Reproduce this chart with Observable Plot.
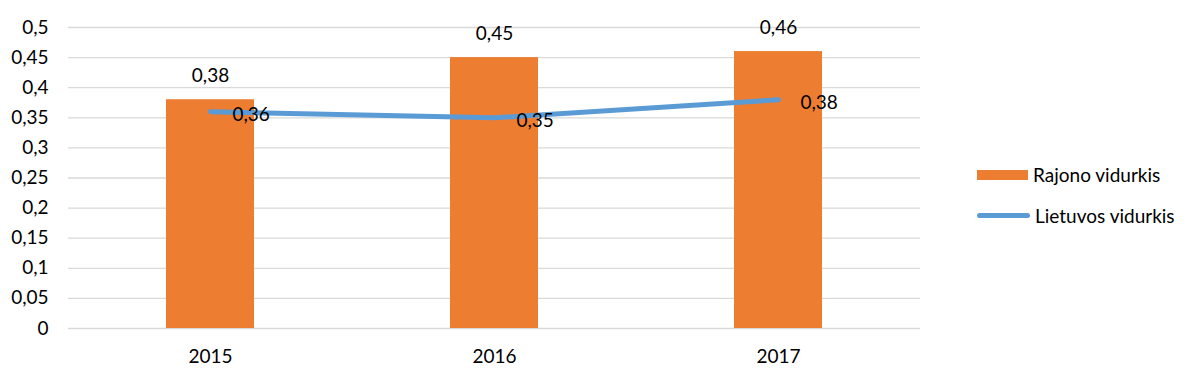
<!DOCTYPE html>
<html><head><meta charset="utf-8">
<script src="https://cdn.jsdelivr.net/npm/d3@7"></script>
<script src="https://cdn.jsdelivr.net/npm/@observablehq/plot@0.6"></script>
<style>
body{margin:0;background:#fff;font-family:Lato,"Open Sans",sans-serif;}
#wrap{position:relative;width:1200px;height:388px;}
#chart{position:absolute;left:0;top:0;}
.leg{position:absolute;left:977px;font-size:19px;color:#000;display:flex;align-items:center;}
.sw{display:inline-block;margin-right:5px;}
</style></head><body>
<div id="wrap"><div id="chart"></div>
<div class="leg" style="top:163px"><span class="sw" style="width:51px;height:10px;background:#ED7D31"></span>Rajono vidurkis</div>
<div class="leg" style="top:204px"><span class="sw" style="width:53px;height:5px;border-radius:3px;background:#5B9BD5"></span>Lietuvos vidurkis</div>
</div>
<script>
const years = ["2015","2016","2017"];
const rajono = [0.38,0.45,0.46];
const lietuvos = [0.36,0.35,0.38];
const yTicks = [0,0.05,0.1,0.15,0.2,0.25,0.3,0.35,0.4,0.45,0.5];
const seriesNames = ["Rajono vidurkis","Lietuvos vidurkis"];

const fmt = v => String(v).replace(".", ",");
const bars = years.map((y,i)=>({year:y, value:rajono[i], series:seriesNames[0]}));
const line = years.map((y,i)=>({year:y, value:lietuvos[i], series:seriesNames[1]}));

const plot = Plot.plot({
  width: 930, height: 388,
  marginLeft: 68, marginRight: 10, marginTop: 27, marginBottom: 60,
  style:{fontFamily:"Lato, 'Open Sans', sans-serif", fontSize:"19px", color:"#000", background:"transparent"},
  x:{domain:years, paddingInner:0.69, paddingOuter:0.345, label:null},
  y:{domain:[0,0.5], label:null},
  marks:[
    Plot.gridY(yTicks, {stroke:"#d9d9d9", strokeOpacity:1, strokeWidth:1.3}),
    Plot.axisY(yTicks, {tickSize:0, tickPadding:20, tickFormat:fmt, fontSize:19}),
    Plot.axisX({tickSize:0, tickPadding:21, fontSize:19}),
    Plot.barY(bars, {x:"year", y:"value", fill:"#ED7D31"}),
    Plot.text(bars, {x:"year", y:"value", text:d=>fmt(d.value), dy:-24, fontSize:19, fill:"#000"}),
    Plot.line(line, {x:"year", y:"value", stroke:"#5B9BD5", strokeWidth:5, strokeLinecap:"round", strokeLinejoin:"round"}),
    Plot.text(line, {x:"year", y:"value", text:d=>fmt(d.value), dx:22, dy:3, textAnchor:"start", fontSize:19, fill:"#000"})
  ]
});
document.getElementById("chart").appendChild(plot);
</script>
</body></html>
